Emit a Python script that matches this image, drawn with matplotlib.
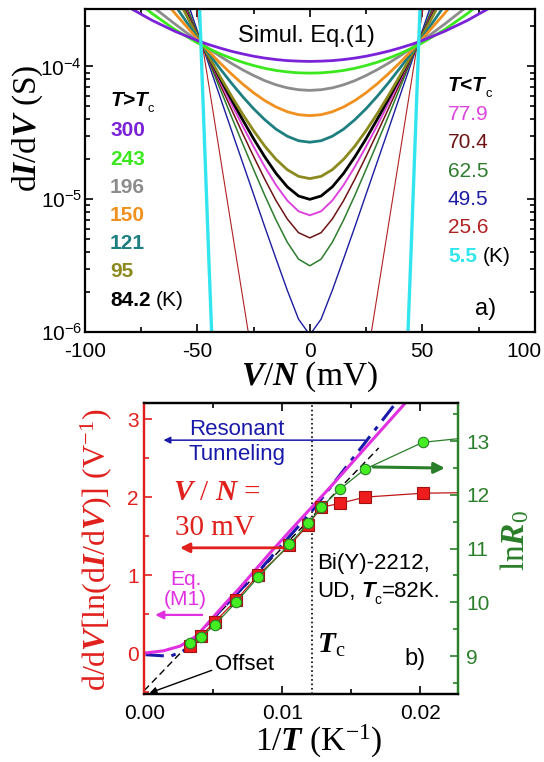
import matplotlib
matplotlib.use('Agg')
import matplotlib.pyplot as plt
import numpy as np
from matplotlib.ticker import MultipleLocator, LogLocator, NullFormatter, FormatStrFormatter
from matplotlib.transforms import ScaledTranslation

plt.rcParams['font.family'] = ['Liberation Sans', 'DejaVu Sans']
plt.rcParams['axes.unicode_minus'] = False
plt.rcParams['mathtext.fontset'] = 'custom'
plt.rcParams['mathtext.rm'] = 'Liberation Serif'
plt.rcParams['mathtext.it'] = 'Liberation Serif:italic'
plt.rcParams['mathtext.bf'] = 'Liberation Serif:bold:italic'

# ---- panel a) : simulated dI/dV(V) curves, log10 of conductance (S)
bias_mV = [-90, -80, -70, -60, -50, -45, -40, -35, -30, -25, -20, -15, -10, -5, 0,
           5, 10, 15, 20, 25, 30, 35, 40, 45, 50, 60, 70, 80, 90]

logG_300 = [-3.452, -3.559, -3.654, -3.735, -3.805, -3.835, -3.861, -3.885, -3.905, -3.923, -3.937, -3.948, -3.956, -3.960, -3.962,
            -3.960, -3.956, -3.948, -3.937, -3.923, -3.905, -3.885, -3.861, -3.835, -3.805, -3.735, -3.654, -3.559, -3.452]
logG_243 = [-3.312, -3.467, -3.603, -3.722, -3.822, -3.865, -3.904, -3.938, -3.968, -3.993, -4.014, -4.030, -4.041, -4.048, -4.050,
            -4.048, -4.041, -4.030, -4.014, -3.993, -3.968, -3.938, -3.904, -3.865, -3.822, -3.722, -3.603, -3.467, -3.312]
logG_196 = [-3.269, -3.410, -3.548, -3.680, -3.806, -3.865, -3.922, -3.975, -4.024, -4.068, -4.107, -4.138, -4.161, -4.175, -4.180,
            -4.175, -4.161, -4.138, -4.107, -4.068, -4.024, -3.975, -3.922, -3.865, -3.806, -3.680, -3.548, -3.410, -3.269]
logG_150 = [-2.965, -3.183, -3.394, -3.599, -3.793, -3.885, -3.972, -4.054, -4.130, -4.198, -4.257, -4.305, -4.341, -4.363, -4.370,
            -4.363, -4.341, -4.305, -4.257, -4.198, -4.130, -4.054, -3.972, -3.885, -3.793, -3.599, -3.394, -3.183, -2.965]
logG_121 = [-2.765, -3.028, -3.286, -3.538, -3.783, -3.900, -4.014, -4.122, -4.224, -4.318, -4.401, -4.472, -4.525, -4.559, -4.570,
            -4.559, -4.525, -4.472, -4.401, -4.318, -4.224, -4.122, -4.014, -3.900, -3.783, -3.538, -3.286, -3.028, -2.765]
logG_95 = [-2.462, -2.796, -3.126, -3.451, -3.768, -3.922, -4.072, -4.217, -4.355, -4.483, -4.600, -4.699, -4.777, -4.827, -4.844,
           -4.827, -4.777, -4.699, -4.600, -4.483, -4.355, -4.217, -4.072, -3.922, -3.768, -3.451, -3.126, -2.796, -2.462]
logG_84 = [-2.427, -2.765, -3.102, -3.436, -3.765, -3.927, -4.087, -4.244, -4.397, -4.544, -4.681, -4.805, -4.906, -4.975, -5.000,
           -4.975, -4.906, -4.805, -4.681, -4.544, -4.397, -4.244, -4.087, -3.927, -3.765, -3.436, -3.102, -2.765, -2.427]
logG_78 = [-2.334, -2.694, -3.051, -3.407, -3.760, -3.935, -4.107, -4.276, -4.443, -4.603, -4.755, -4.893, -5.009, -5.090, -5.120,
           -5.090, -5.009, -4.893, -4.755, -4.603, -4.443, -4.276, -4.107, -3.935, -3.760, -3.407, -3.051, -2.694, -2.334]
logG_70 = [-2.221, -2.607, -2.991, -3.375, -3.754, -3.944, -4.131, -4.316, -4.499, -4.677, -4.849, -5.010, -5.148, -5.251, -5.290,
           -5.251, -5.148, -5.010, -4.849, -4.677, -4.499, -4.316, -4.131, -3.944, -3.754, -3.375, -2.991, -2.607, -2.221]
logG_62 = [-2.053, -2.479, -2.903, -3.326, -3.747, -3.955, -4.164, -4.371, -4.575, -4.775, -4.971, -5.156, -5.323, -5.450, -5.500,
           -5.450, -5.323, -5.156, -4.971, -4.775, -4.575, -4.371, -4.164, -3.955, -3.747, -3.326, -2.903, -2.479, -2.053]
logG_49 = [-1.752, -2.247, -2.742, -3.237, -3.731, -3.979, -4.224, -4.472, -4.717, -4.962, -5.208, -5.448, -5.685, -5.902, -6.020,
           -5.902, -5.685, -5.448, -5.208, -4.962, -4.717, -4.472, -4.224, -3.979, -3.731, -3.237, -2.742, -2.247, -1.752]
logG_25 = [0.64, -0.42, -1.48, -2.54, -3.60, -4.13, -4.66, -5.19, -5.72, -6.25, -6.78, -7.31, -7.84, -8.37, -8.90,
           -8.37, -7.84, -7.31, -6.78, -6.25, -5.72, -5.19, -4.66, -4.13, -3.60, -2.54, -1.48, -0.42, 0.64]
logG_5 = [15.3, 10.7, 6.1, 1.5, -3.1, -5.4, -7.6, -9.9, -12.2, -14.5, -16.8, -19.1, -21.4, -23.7, -26.0,
          -23.7, -21.4, -19.1, -16.8, -14.5, -12.2, -9.9, -7.6, -5.4, -3.1, 1.5, 6.1, 10.7, 15.3]

T_above = ['300', '243', '196', '150', '121', '95', '84.2']
T_below = ['77.9', '70.4', '62.5', '49.5', '25.6', '5.5']
col_above = ['#7B22D8', '#3BE81E', '#8C8C8C', '#F0901E', '#1E7F80', '#8C8A1E', '#000000']
col_below = ['#DD44DD', '#6E1414', '#2E7D2E', '#1C1CA0', '#B22222', '#33E5EE']

# ---- panel b) : slope of ln(dI/dV) at 30 mV and lnR0 vs 1/T
T_meas = [300, 243, 196, 150, 121, 95, 84.2, 77.9, 70.4, 62.5, 49.5, 35]
slope_lnG = [0.09, 0.22, 0.40, 0.68, 1.00, 1.38, 1.64, 1.87, 1.92, 2.00, 2.05, 2.07]
lnR0 = [9.24, 9.35, 9.58, 10.00, 10.47, 11.08, 11.47, 11.77, 12.11, 12.48, 12.98, 13.20]
Tc = 82

eqM1_x = [0, 0.0014, 0.0026, 0.0038, 0.0048, 0.0059, 0.0070, 0.0091, 0.0111, 0.0135, 0.0190]
eqM1_y = [0, 0.03, 0.09, 0.22, 0.42, 0.64, 0.85, 1.28, 1.67, 2.13, 3.22]
reson_x = [0.0001, 0.0019, 0.0030, 0.0038, 0.0048, 0.0067, 0.0083, 0.0104, 0.0122, 0.0183]
reson_y = [-0.02, -0.04, 0.04, 0.18, 0.41, 0.76, 1.05, 1.47, 1.83, 3.22]
offset_x = [0.0, 0.0170]
offset_y = [-0.48, 2.63]

RED = '#E0201C'
GREEN = '#2A7F2A'
NAVY = '#1A1AAA'
MAG = '#E030E0'


def rich_text(ax, x, y, parts, size, **kw):
    # pieces placed one after another on a common baseline; 'sub' lowers a piece
    base = ax.text(x, y, parts[0][0], fontsize=size, va='baseline', **kw, **parts[0][1])
    prev = base
    for s, props in parts[1:]:
        props = dict(props)
        sub = props.pop('sub', False)
        dx = props.pop('dx', 0)
        fs = size * 0.62 if sub else size
        dy = -size * 0.22 if sub else 0
        prev = ax.annotate(s, xy=(1, 0), xycoords=(prev, base), xytext=(dx, dy),
                           textcoords='offset points', fontsize=fs, va='bottom', ha='left', **props)
    return base


fig = plt.figure(figsize=(5.44, 7.62), dpi=100)

# ================= panel a
ax = fig.add_axes([0.156, 0.564, 0.827, 0.424])
thin = [(logG_25, col_below[4], 0.8), (logG_49, col_below[3], 1.0), (logG_62, col_below[2], 1.1),
        (logG_70, col_below[1], 1.1), (logG_78, col_below[0], 1.4)]
thick = [(logG_84, col_above[6]), (logG_95, col_above[5]), (logG_121, col_above[4]),
         (logG_150, col_above[3]), (logG_196, col_above[2]), (logG_243, col_above[1]),
         (logG_300, col_above[0])]
for lg, c, lw in thin:
    ax.plot(bias_mV, 10.0 ** np.array(lg), color=c, lw=lw)
for lg, c in thick:
    ax.plot(bias_mV, 10.0 ** np.array(lg), color=c, lw=2.0)
ax.plot(bias_mV, 10.0 ** np.array(logG_5), color=col_below[5], lw=2.4)

ax.set_yscale('log')
ax.set_xlim(-100, 100)
ax.set_ylim(1e-6, 2.7e-4)
ax.xaxis.set_major_locator(MultipleLocator(50))
ax.xaxis.set_minor_locator(MultipleLocator(25))
ax.yaxis.set_minor_locator(LogLocator(base=10, subs=np.arange(2, 10)))
ax.yaxis.set_minor_formatter(NullFormatter())
ax.tick_params(which='both', direction='in', top=True, right=True, width=1.2, labelsize=15)
ax.tick_params(which='major', length=6)
ax.tick_params(which='minor', length=3.5)
ax.tick_params(axis='y', pad=2)
ax.tick_params(axis='x', pad=7)
for sp in ax.spines.values():
    sp.set_linewidth(1.6)

# keep the last x tick label inside the figure, as in the original
locs = list(ax.xaxis.get_majorticklocs())
ticks = ax.xaxis.get_major_ticks(len(locs))
lab100 = ticks[locs.index(100)].label1
lab100.set_horizontalalignment('right')
lab100.set_transform(lab100.get_transform() + ScaledTranslation(0.07, 0, fig.dpi_scale_trans))

ax.set_ylabel(r'd$\mathbf{I}$/d$\mathbf{V}$ (S)', fontsize=24, family='Liberation Serif', va='center')
ax.yaxis.set_label_coords(-0.127, 0.632)
ax.set_xlabel(r'$\mathbf{V}$/$\mathbf{N}$ (mV)', fontsize=24, family='Liberation Serif', va='center')
ax.xaxis.set_label_coords(0.5, -0.139)

ax.text(0.493, 0.898, 'Simul. Eq.(1)', transform=ax.transAxes, fontsize=17, ha='center', va='baseline')
ax.text(0.867, 0.053, 'a)', transform=ax.transAxes, fontsize=17, va='baseline')

rich_text(ax, 0.056, 0.700, [('T>T', dict(fontweight='bold', fontstyle='italic')), ('c', dict(sub=True))],
          15, transform=ax.transAxes)
y_above = [0.607, 0.517, 0.430, 0.344, 0.257, 0.170]
for lab, c, yy in zip(T_above[:-1], col_above[:-1], y_above):
    ax.text(0.056, yy, lab, color=c, fontsize=15, fontweight='bold', transform=ax.transAxes, va='baseline')
rich_text(ax, 0.056, 0.080, [(T_above[-1], dict(fontweight='bold', color=col_above[-1])), ('(K)', dict(dx=4))],
          15, transform=ax.transAxes)

rich_text(ax, 0.807, 0.746, [('T<T', dict(fontweight='bold', fontstyle='italic')), ('c', dict(sub=True))],
          15, transform=ax.transAxes)
y_below = [0.656, 0.570, 0.480, 0.393, 0.307]
for lab, c, yy in zip(T_below[:-1], col_below[:-1], y_below):
    ax.text(0.807, yy, lab, color=c, fontsize=15, transform=ax.transAxes, va='baseline')
rich_text(ax, 0.807, 0.217, [(T_below[-1], dict(fontweight='bold', color=col_below[-1])), ('(K)', dict(dx=4))],
          15, transform=ax.transAxes)

# ================= panel b
bx = fig.add_axes([0.265, 0.089, 0.577, 0.382])
bx2 = bx.twinx()
inv_T = 1.0 / np.array(T_meas)

bx.axvline(1.0 / Tc, color='k', ls=':', lw=1.2)
bx.plot(offset_x, offset_y, color='k', lw=1.0, dashes=(5, 3))
bx.plot(reson_x, reson_y, color=NAVY, lw=2.2, dashes=(6, 2.5, 1.5, 2.5))
bx.plot(eqM1_x, eqM1_y, color=MAG, lw=2.2)
bx.plot(inv_T, slope_lnG, color='#C01818', lw=0.9, marker='s', ms=8, mfc='#EE1C1C', mec='#A01010', mew=0.8)
bx2.plot(inv_T, lnR0, color=GREEN, lw=0.9, marker='o', ms=7.5, mfc='#44EE22', mec=GREEN, mew=0.8)

bx.set_xlim(0, 0.02275)
bx.set_ylim(-0.526, 3.205)
bx2.set_ylim(8.29, 13.71)

bx.xaxis.set_major_locator(MultipleLocator(0.01))
bx.xaxis.set_minor_locator(MultipleLocator(0.005))
bx.xaxis.set_major_formatter(FormatStrFormatter('%.2f'))
bx.yaxis.set_major_locator(MultipleLocator(1))
bx.yaxis.set_minor_locator(MultipleLocator(0.5))
bx2.yaxis.set_major_locator(MultipleLocator(1))
bx2.yaxis.set_minor_locator(MultipleLocator(0.5))

bx.tick_params(which='both', direction='in', top=True, width=1.2, labelsize=15)
bx.tick_params(which='major', length=6)
bx.tick_params(which='minor', length=3.5)
bx.tick_params(axis='x', pad=7)
bx.tick_params(axis='y', which='both', colors=RED, pad=4)
bx2.tick_params(axis='y', which='both', direction='in', colors=GREEN, width=1.2, labelsize=15, pad=6)
bx2.tick_params(axis='y', which='major', length=6)
bx2.tick_params(axis='y', which='minor', length=3.5)

for a in (bx, bx2):
    for sp in a.spines.values():
        sp.set_linewidth(1.6)
    a.spines['left'].set_color(RED)
    a.spines['right'].set_color(GREEN)

bx.set_ylabel(r'd/d$\mathbf{V}$[ln(d$\mathbf{I}$/d$\mathbf{V}$)] (V$^{-1}$)', color=RED, fontsize=23,
              family='Liberation Serif', va='center')
bx.yaxis.set_label_coords(-0.153, 0.495)
bx2.set_ylabel(r'ln$\mathbf{R}_0$', color=GREEN, fontsize=24, family='Liberation Serif', va='center')
bx2.yaxis.set_label_coords(1.182, 0.529)
bx.set_xlabel(r'1/$\mathbf{T}$ (K$^{-1}$)', fontsize=24, family='Liberation Serif', va='center')
bx.xaxis.set_label_coords(0.557, -0.162)

# annotations
bx.text(0.0067, 2.79, 'Resonant', color=NAVY, fontsize=16, ha='center', va='baseline')
bx.text(0.0067, 2.47, 'Tunneling', color=NAVY, fontsize=16, ha='center', va='baseline')
bx.annotate('', xy=(0.0014, 2.73), xytext=(0.0160, 2.73),
            arrowprops=dict(arrowstyle='-|>', color=NAVY, lw=1.1, mutation_scale=10, shrinkA=0, shrinkB=0))

bx.text(0.0021, 1.96, r'$\mathbf{V}$ / $\mathbf{N}$ =', color=RED, fontsize=21, family='Liberation Serif',
        va='baseline')
bx.text(0.00225, 1.51, '30 mV', color=RED, fontsize=21, family='Liberation Serif', va='baseline')
bx.annotate('', xy=(0.0026, 1.35), xytext=(0.0101, 1.35),
            arrowprops=dict(arrowstyle='-|>', color=RED, lw=2.0, mutation_scale=14, shrinkA=0, shrinkB=0))

bx.text(0.0030, 0.87, 'Eq.', color=MAG, fontsize=15, ha='center', va='baseline')
bx.text(0.0030, 0.62, '(M1)', color=MAG, fontsize=15, ha='center', va='baseline')
bx.annotate('', xy=(0.0008, 0.49), xytext=(0.0042, 0.49),
            arrowprops=dict(arrowstyle='-|>', color=MAG, lw=1.6, mutation_scale=12, shrinkA=0, shrinkB=0))

bx.text(0.00725, -0.22, 'Offset', fontsize=16, ha='center', va='baseline')
bx.annotate('', xy=(0.0004, -0.51), xytext=(0.0049, -0.22),
            arrowprops=dict(arrowstyle='-|>', color='k', lw=1.0, mutation_scale=10, shrinkA=0, shrinkB=0))

bx2.annotate('', xy=(0.0218, 12.50), xytext=(0.0166, 12.52),
             arrowprops=dict(arrowstyle='-|>', color=GREEN, lw=2.2, mutation_scale=16, shrinkA=0, shrinkB=0))

bx.text(0.01254, 1.08, 'Bi(Y)-2212,', fontsize=16, va='baseline')
rich_text(bx, 0.01254, 0.72, [('UD,', {}), ('T', dict(fontweight='bold', fontstyle='italic', dx=4)),
                              ('c', dict(sub=True)), ('=82K.', {})], 16)
bx.text(0.01254, 0.01, r'$\mathbf{T}_{\mathrm{c}}$', fontsize=21, va='baseline')
bx.text(0.0189, -0.15, 'b)', fontsize=17, va='baseline')

fig.savefig('out.png', dpi=100)
